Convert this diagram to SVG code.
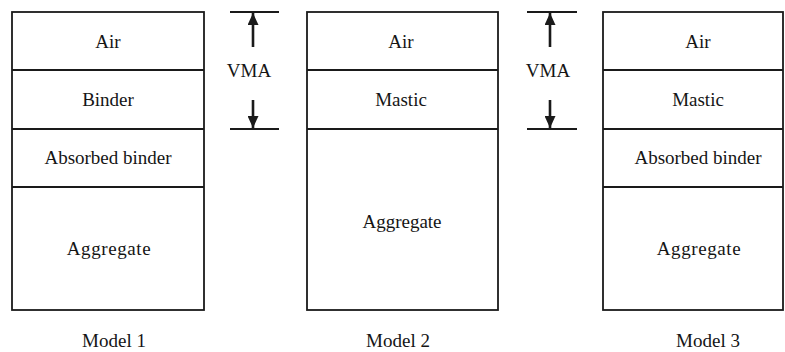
<svg xmlns="http://www.w3.org/2000/svg" width="785" height="352" viewBox="0 0 785 352">
<defs>
<style>
.box{fill:none;stroke:#1a1a1a;stroke-width:1.8}
.ln{stroke:#1a1a1a;stroke-width:1.8;fill:none}
.ar{stroke:#1a1a1a;stroke-width:2.6;fill:none}
text{font-family:"Liberation Serif","Times New Roman",serif;font-size:19px;fill:#151515;text-anchor:middle}
.sp{letter-spacing:0.6px}
</style>
<marker id="ah" viewBox="0 0 12 11" refX="12" refY="5.5" markerWidth="12" markerHeight="11" markerUnits="userSpaceOnUse" orient="auto">
<path d="M0,0 L12,5.5 L0,11 z" fill="#1a1a1a"/>
</marker>
</defs>
<rect width="785" height="352" fill="#ffffff"/>
<g id="model1">
<rect class="box" x="12" y="12" width="192" height="298"/>
<line class="ln" x1="12" y1="70" x2="204" y2="70"/>
<line class="ln" x1="12" y1="129" x2="204" y2="129"/>
<line class="ln" x1="12" y1="187" x2="204" y2="187"/>
<text x="108" y="48">Air</text>
<text x="108" y="106">Binder</text>
<text x="108" y="164">Absorbed binder</text>
<text class="sp" x="109" y="255">Aggregate</text>
<text x="114" y="347">Model 1</text>
</g>
<g id="model2">
<rect class="box" x="307" y="12" width="191" height="298"/>
<line class="ln" x1="307" y1="70" x2="498" y2="70"/>
<line class="ln" x1="307" y1="129" x2="498" y2="129"/>
<text x="401" y="48">Air</text>
<text x="401" y="106">Mastic</text>
<text x="402" y="228">Aggregate</text>
<text x="398" y="347">Model 2</text>
</g>
<g id="model3">
<rect class="box" x="603" y="12" width="180" height="298"/>
<line class="ln" x1="603" y1="70" x2="783" y2="70"/>
<line class="ln" x1="603" y1="129" x2="783" y2="129"/>
<line class="ln" x1="603" y1="187" x2="783" y2="187"/>
<text x="698" y="48">Air</text>
<text x="698" y="106">Mastic</text>
<text x="698" y="164">Absorbed binder</text>
<text class="sp" x="699" y="255">Aggregate</text>
<text x="708" y="347">Model 3</text>
</g>
<g id="vma1">
<line class="ln" x1="230" y1="12" x2="279" y2="12"/>
<line class="ln" x1="230" y1="129" x2="279" y2="129"/>
<text x="249" y="77">VMA</text>
</g>
<g id="vma2">
<line class="ln" x1="527" y1="12" x2="577" y2="12"/>
<line class="ln" x1="527" y1="129" x2="577" y2="129"/>
<text x="548" y="77">VMA</text>
</g>
<g id="connectors">
<line class="ar" x1="253" y1="47" x2="253" y2="13" marker-end="url(#ah)"/>
<line class="ar" x1="253" y1="100" x2="253" y2="128" marker-end="url(#ah)"/>
<line class="ar" x1="550" y1="47" x2="550" y2="13" marker-end="url(#ah)"/>
<line class="ar" x1="550" y1="100" x2="550" y2="128" marker-end="url(#ah)"/>
</g>
</svg>
